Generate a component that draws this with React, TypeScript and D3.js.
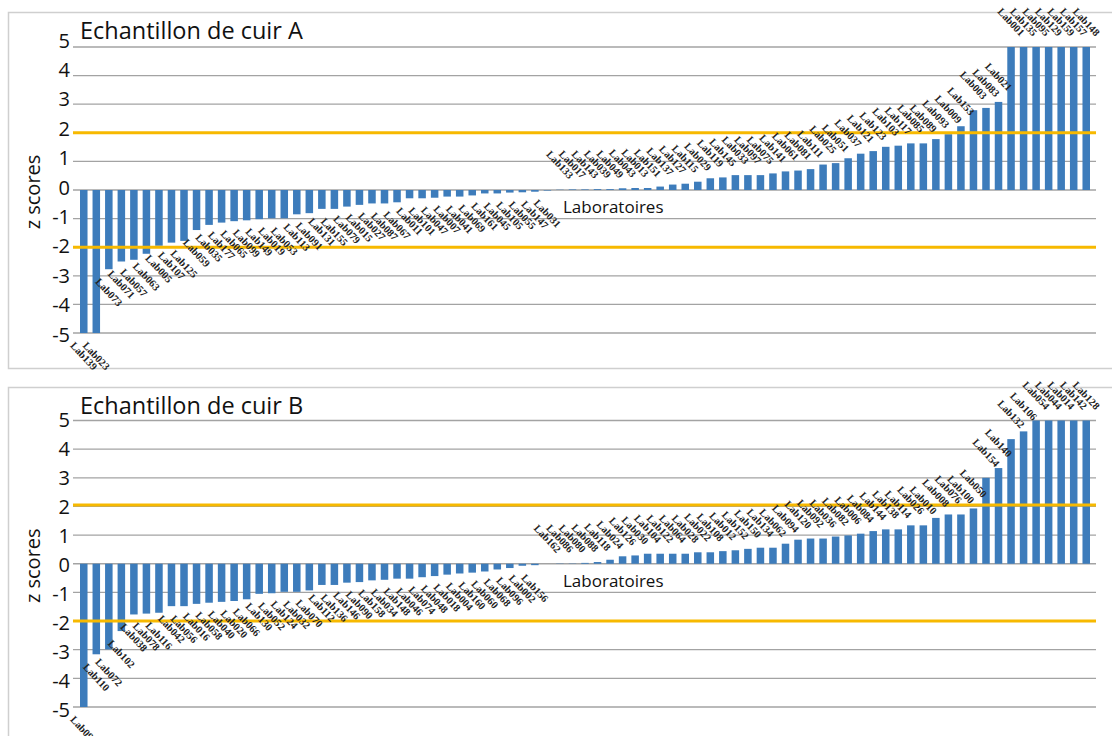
import React from 'react';
import * as d3 from 'd3';

// ---------- Data ----------
const labsA = [
  'Lab139','Lab023','Lab073','Lab071','Lab057','Lab063','Lab005','Lab107','Lab125','Lab059',
  'Lab035','Lab177','Lab065','Lab099','Lab149','Lab019','Lab053','Lab113','Lab091','Lab131',
  'Lab155','Lab079','Lab015','Lab027','Lab087','Lab067','Lab011','Lab101','Lab047','Lab007',
  'Lab041','Lab069','Lab161','Lab045','Lab105','Lab055','Lab147','Lab031',
  'Lab133','Lab017','Lab143','Lab039','Lab049','Lab043','Lab013','Lab151','Lab137','Lab127',
  'Lab115','Lab029','Lab119','Lab145','Lab033','Lab097','Lab075','Lab141','Lab061','Lab081',
  'Lab111','Lab025','Lab051','Lab037','Lab121','Lab123','Lab103','Lab117','Lab085','Lab089',
  'Lab093','Lab009','Lab153','Lab003','Lab083','Lab021','Lab001','Lab135','Lab095','Lab129',
  'Lab159','Lab157','Lab148'
];
const zA = [
  -5, -5, -2.77, -2.5, -2.44, -2.23, -1.95, -1.84, -1.78, -1.4,
  -1.22, -1.14, -1.09, -1.06, -1.02, -0.99, -0.99, -0.85, -0.81, -0.66,
  -0.66, -0.58, -0.52, -0.47, -0.47, -0.43, -0.29, -0.29, -0.27, -0.23,
  -0.23, -0.19, -0.12, -0.12, -0.09, -0.08, -0.06, -0.02,
  0.01, 0.02, 0.02, 0.03, 0.03, 0.06, 0.07, 0.07, 0.12, 0.19,
  0.22, 0.29, 0.41, 0.44, 0.52, 0.52, 0.52, 0.58, 0.65, 0.68,
  0.73, 0.89, 0.94, 1.11, 1.27, 1.36, 1.51, 1.55, 1.63, 1.63,
  1.78, 1.95, 2.23, 2.79, 2.87, 3.08, 5, 5, 5, 5,
  5, 5, 5
];

const labsB = [
  'Lab098','Lab110','Lab072','Lab102','Lab038','Lab078','Lab116','Lab042','Lab056','Lab016',
  'Lab058','Lab040','Lab020','Lab066','Lab130','Lab052','Lab124','Lab032','Lab070','Lab112',
  'Lab136','Lab146','Lab090','Lab158','Lab034','Lab148','Lab046','Lab074','Lab048','Lab018',
  'Lab004','Lab160','Lab060','Lab068','Lab096','Lab002','Lab156',
  'Lab162','Lab086','Lab080','Lab088','Lab118','Lab024','Lab126','Lab030','Lab104','Lab122',
  'Lab064','Lab028','Lab022','Lab108','Lab012','Lab152','Lab150','Lab134','Lab062','Lab094',
  'Lab120','Lab092','Lab036','Lab082','Lab006','Lab084','Lab144','Lab138','Lab114','Lab026',
  'Lab010','Lab008','Lab076','Lab100','Lab050','Lab154','Lab140','Lab132','Lab106','Lab054',
  'Lab044','Lab014','Lab142','Lab128'
];
const zB = [
  -5, -3.16, -2.99, -2.35, -1.77, -1.74, -1.71, -1.48, -1.48, -1.4,
  -1.36, -1.33, -1.3, -1.24, -1.05, -1.03, -0.98, -0.98, -0.93, -0.74,
  -0.74, -0.66, -0.64, -0.58, -0.56, -0.52, -0.52, -0.47, -0.43, -0.38,
  -0.34, -0.31, -0.27, -0.2, -0.15, -0.07, -0.05,
  0.0, 0.01, 0.01, 0.03, 0.06, 0.14, 0.26, 0.29, 0.35, 0.35,
  0.35, 0.35, 0.4, 0.4, 0.44, 0.47, 0.52, 0.56, 0.56, 0.7,
  0.84, 0.88, 0.88, 0.95, 0.99, 1.05, 1.14, 1.2, 1.2, 1.34,
  1.34, 1.6, 1.72, 1.72, 1.93, 3.0, 3.34, 4.35, 4.62, 5,
  5, 5, 5, 5
];

const yTicks = [5, 4, 3, 2, 1, 0, -1, -2, -3, -4, -5];
const limitsA = [2, -2];
const limitsB = [2.05, -2];
const titleA = 'Echantillon de cuir A';
const titleB = 'Echantillon de cuir B';
const xTitle = 'Laboratoires';
const yTitle = 'z scores';

// ---------- Styles ----------
const BAR = '#3d7cbb';
const ORANGE = '#f7b900';
const GRID = '#a3a3a3';
const SANS = '"Open Sans", Lato, sans-serif';

type PanelProps = {
  labs: string[];
  values: number[];
  limits: number[];
  title: string;
  boxTop: number;
  boxBottom: number;
  yTop: number;
  yBottom: number;
  labTop: number;
  labBottom: number;
};

function Panel({ labs, values, limits, title, boxTop, boxBottom, yTop, yBottom, labTop, labBottom }: PanelProps) {
  const x = d3.scaleBand<string>()
    .domain(labs)
    .range([77.5, 1092.5])
    .paddingInner(0.4)
    .paddingOuter(0.2);
  const y = d3.scaleLinear().domain([-5, 5]).range([yBottom, yTop]);
  const yl = d3.scaleLinear().domain([-5, 5]).range([labBottom, labTop]);
  const gx0 = 73;
  const gx1 = 1096;
  const y0 = y(0);
  return (
    <g>
      <rect x={8.5} y={boxTop + 0.5} width={1110} height={boxBottom - boxTop} fill="#fff" stroke="#cfcfcf" strokeWidth={1.5} />
      {yTicks.map(t => (
        <line key={'g' + t} x1={gx0} x2={gx1} y1={y(t)} y2={y(t)} stroke={GRID} strokeWidth={1.3} />
      ))}
      {yTicks.map(t => (
        <text key={'t' + t} x={70} y={yl(t)} textAnchor="end" dominantBaseline="central"
          fontFamily={SANS} fontSize={20} fill="#111">{t}</text>
      ))}
      {labs.map((l, i) => {
        const v = values[i];
        const bx = x(l) as number;
        return (
          <rect key={'b' + l} x={bx} width={x.bandwidth()} y={Math.min(y(v), y0)} height={Math.abs(y(v) - y0)} fill={BAR} />
        );
      })}
      {limits.map((v, i) => (
        <line key={'o' + i} x1={gx0} x2={gx1} y1={y(v)} y2={y(v)} stroke={ORANGE} strokeWidth={3} />
      ))}
      {labs.map((l, i) => {
        const v = values[i];
        const cx = (x(l) as number) + x.bandwidth() / 2;
        const cy = v >= 0 ? y(v) - 25 : y(v) + 23;
        return (
          <text key={'l' + l} transform={`translate(${cx},${cy}) rotate(47)`} textAnchor="middle"
            dominantBaseline="central" fontFamily='"Liberation Serif", serif' fontWeight="bold"
            fontSize={10.5} fill="#222">{l}</text>
        );
      })}
      <text x={80} y={boxTop + 27} fontFamily={SANS} fontSize={23.5} fill="#111">{title}</text>
      <text x={563} y={y0 + 23} fontFamily={SANS} fontSize={17} fill="#111">{xTitle}</text>
      <text transform={`translate(40,${y0 + 2}) rotate(-90)`} textAnchor="middle" fontFamily={SANS}
        fontSize={20} fill="#111">{yTitle}</text>
    </g>
  );
}

export default function App() {
  return (
    <svg width={1112} height={736} style={{ position: 'absolute', left: 0, top: 0, background: '#fff' }}>
      <rect x={0} y={0} width={1112} height={736} fill="#fff" />
      <Panel labs={labsA} values={zA} limits={limitsA} title={titleA} boxTop={12} boxBottom={368}
        yTop={47} yBottom={333} labTop={40} labBottom={334} />
      <Panel labs={labsB} values={zB} limits={limitsB} title={titleB} boxTop={387} boxBottom={760}
        yTop={420.5} yBottom={707} labTop={419} labBottom={709} />
    </svg>
  );
}
